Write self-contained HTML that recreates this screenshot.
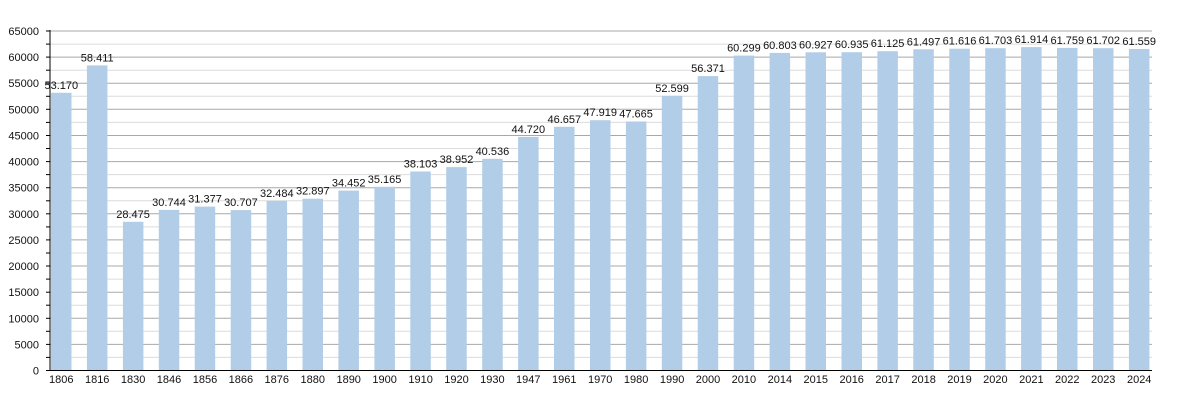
<!DOCTYPE html>
<html><head><meta charset="utf-8"><style>body{margin:0;background:#fff}svg{display:block}text{font-family:"Liberation Sans",sans-serif;font-size:11px;fill:#111}</style></head><body>
<svg id="s" width="1180" height="400" xmlns="http://www.w3.org/2000/svg"></svg>
<script>
const s=document.getElementById('s');
const yrs=[1806,1816,1830,1846,1856,1866,1876,1880,1890,1900,1910,1920,1930,1947,1961,1970,1980,1990,2000,2010,2014,2015,2016,2017,2018,2019,2020,2021,2022,2023,2024];
const vals=[53170,58411,28475,30744,31377,30707,32484,32897,34452,35165,38103,38952,40536,44720,46657,47919,47665,52599,56371,60299,60803,60927,60935,61125,61497,61616,61703,61914,61759,61702,61559];
const Y=v=>370.5-v*339.5/65000;
let h='';
for(let v=2500;v<=65000;v+=2500){const y=Y(v).toFixed(1);const maj=v%5000==0;
h+=`<line x1="50" x2="1152" y1="${y}" y2="${y}" stroke="${maj?'#a8a8a8':'#dcdcdc'}" stroke-width="1"/>`;
h+=`<line x1="46" x2="50" y1="${y}" y2="${y}" stroke="#000"/>`;
if(maj)h+=`<text x="39" y="${(+y+4).toFixed(1)}" text-anchor="end">${v}</text>`;}
h+=`<text x="39" y="374.5" text-anchor="end">0</text>`;
yrs.forEach((yr,i)=>{const x=51+i*35.93;const y=Y(vals[i]);
h+=`<rect x="${x.toFixed(1)}" y="${y.toFixed(1)}" width="20.5" height="${(370.5-y).toFixed(1)}" fill="#b2cde7"/>`;
const c=x+10.25;const str=(vals[i]/1000).toFixed(3);
h+=`<text x="${c.toFixed(1)}" y="${(y-4).toFixed(1)}" text-anchor="middle">${str}</text>`;
h+=`<text x="${c.toFixed(1)}" y="383" text-anchor="middle">${yr}</text>`;});
h+=`<line x1="50" x2="50" y1="30" y2="371" stroke="#000"/><line x1="46" x2="1152" y1="370.5" y2="370.5" stroke="#000"/>`;
s.innerHTML=h;
</script>
</body></html>
